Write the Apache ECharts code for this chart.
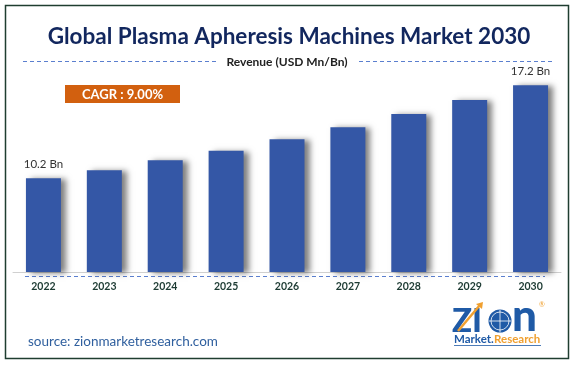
<!DOCTYPE html>
<html><head><meta charset="utf-8">
<script src="https://cdn.jsdelivr.net/npm/echarts@6/dist/echarts.min.js"></script>
<style>html,body{margin:0;padding:0;background:#fff}#c{width:575px;height:366px}</style>
</head><body><div id="c"></div>
<script>
var categories = ['2022','2023','2024','2025','2026','2027','2028','2029','2030'];
var revenue = [10.2, 10.8, 11.55, 12.28, 13.13, 14.04, 15.04, 16.09, 17.2];
var labelledIndex = [0, 8];
var titleText = 'Global Plasma Apheresis Machines Market 2030';
var subtitleText = 'Revenue (USD Mn/Bn)';
var cagrText = 'CAGR : 9.00%';
var sourceText = 'source: zionmarketresearch.com';

var chart = echarts.init(document.getElementById('c'), null, {renderer: 'canvas'});
var F = 'Lato, "Open Sans", sans-serif';
chart.setOption({
  animation: false,
  backgroundColor: '#fff',
  grid: {left: 13, right: 14, top: 60, bottom: 94, containLabel: false},
  xAxis: {
    type: 'category', data: categories,
    axisLine: {show: true, lineStyle: {color: '#d0d0d0', width: 1}},
    axisTick: {show: false},
    axisLabel: {color: '#1d3b33', fontFamily: F, fontWeight: 'bold', fontSize: 10.5, margin: 9}
  },
  yAxis: {type: 'value', min: 3.15, max: 19.1, show: false, splitLine: {show: false}},
  series: [{
    type: 'bar', data: revenue, barWidth: 35,
    itemStyle: {color: '#3457a6', shadowColor: 'rgba(0,0,0,0.5)', shadowBlur: 6, shadowOffsetX: 5, shadowOffsetY: 1},
    label: {
      show: true, position: 'top', distance: 8, color: '#333', fontFamily: F, fontSize: 11.5,
      formatter: function (p) { return labelledIndex.indexOf(p.dataIndex) >= 0 ? p.value + ' Bn' : ''; }
    }
  }],
  graphic: [
    {type: 'rect', shape: {x: 5.5, y: 5.5, width: 563, height: 353}, style: {fill: 'none', stroke: '#1f3d30', lineWidth: 1.5}, z: 10},
    {type: 'text', x: 289, y: 37, style: {text: titleText, fill: '#12275e', font: 'bold 22.5px ' + F, textAlign: 'center', textVerticalAlign: 'middle'}},
    {type: 'text', x: 287, y: 62, style: {text: subtitleText, fill: '#222', font: 'bold 12px ' + F, textAlign: 'center', textVerticalAlign: 'middle'}},
    {type: 'line', shape: {x1: 23, y1: 61.5, x2: 216, y2: 61.5}, style: {stroke: '#5b7fcf', lineWidth: 1, lineDash: [4, 3]}},
    {type: 'line', shape: {x1: 359, y1: 61.5, x2: 552, y2: 61.5}, style: {stroke: '#5b7fcf', lineWidth: 1, lineDash: [4, 3]}},
    {type: 'line', shape: {x1: 25, y1: 276.5, x2: 545, y2: 276.5}, style: {stroke: '#5b7fcf', lineWidth: 1, lineDash: [4, 3]}},
    {type: 'rect', shape: {x: 65, y: 85, width: 115, height: 18}, style: {fill: '#d2600f'}},
    {type: 'text', x: 122.5, y: 94.5, style: {text: cagrText, fill: '#fff', font: 'bold 13px ' + F, textAlign: 'center', textVerticalAlign: 'middle'}},
    {type: 'text', x: 28, y: 342, style: {text: sourceText, fill: '#2f5f9e', font: '13.5px ' + F, textAlign: 'left', textVerticalAlign: 'middle'}},
    // logo
    {type: 'text', x: 452, y: 321, style: {text: 'ZI', fill: '#1f5aa6', font: '900 33px ' + F, textAlign: 'left', textVerticalAlign: 'middle'}},
    {type: 'line', shape: {x1: 458, y1: 331, x2: 480, y2: 305}, style: {stroke: '#f0a030', lineWidth: 2.5}},
    {type: 'polygon', shape: {points: [[476, 304], [483, 302], [482, 309]]}, style: {fill: '#f0a030'}},
    {type: 'circle', shape: {cx: 500, cy: 321, r: 11.5}, style: {fill: '#1f5aa6'}},
    {type: 'circle', shape: {cx: 500, cy: 321, r: 9}, style: {fill: 'none', stroke: '#fff', lineWidth: 0.8}},
    {type: 'line', shape: {x1: 489, y1: 321, x2: 511, y2: 321}, style: {stroke: '#fff', lineWidth: 0.8}},
    {type: 'line', shape: {x1: 500, y1: 310, x2: 500, y2: 332}, style: {stroke: '#fff', lineWidth: 0.8}},
    {type: 'text', x: 512, y: 317, style: {text: 'n', fill: '#1f5aa6', font: '900 44px ' + F, textAlign: 'left', textVerticalAlign: 'middle'}},
    {type: 'text', x: 542, y: 305, style: {text: '®', fill: '#f0a030', font: '7px ' + F, textAlign: 'center', textVerticalAlign: 'middle'}},
    {type: 'text', x: 454, y: 339, style: {text: 'Market.', fill: '#1f5aa6', font: 'bold 11.5px ' + F, textAlign: 'left', textVerticalAlign: 'middle'}},
    {type: 'text', x: 494, y: 339, style: {text: 'Research', fill: '#f0a030', font: 'bold 11.5px ' + F, textAlign: 'left', textVerticalAlign: 'middle'}},
    {type: 'line', shape: {x1: 454, y1: 345.5, x2: 541, y2: 345.5}, style: {stroke: '#1f5aa6', lineWidth: 0.8}}
  ]
});
</script></body></html>
